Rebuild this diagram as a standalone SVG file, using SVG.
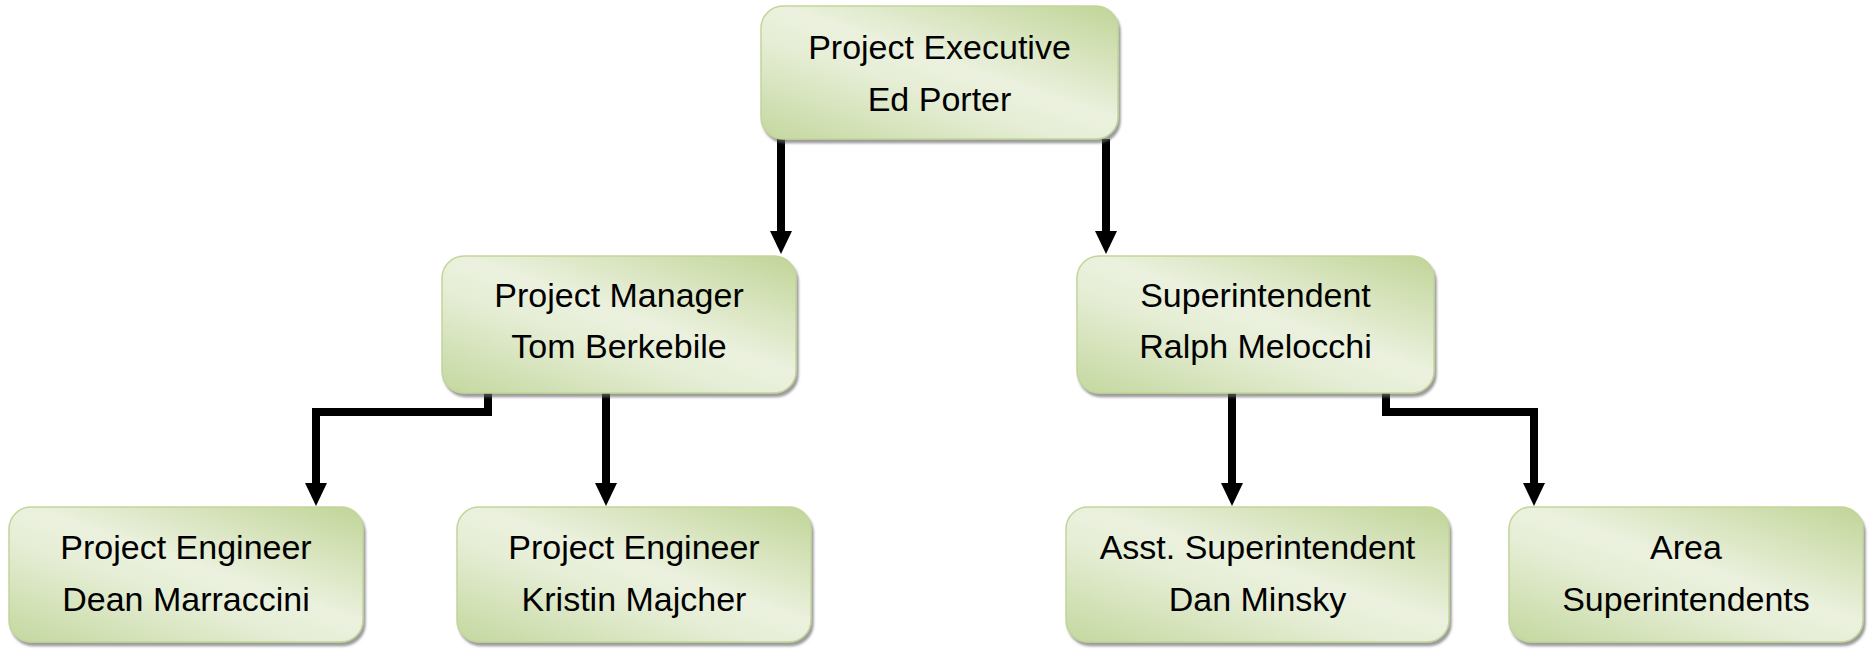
<svg xmlns="http://www.w3.org/2000/svg" width="1871" height="651" viewBox="0 0 1871 651">
  <defs>
    <linearGradient id="boxFill" x1="0.95" y1="0" x2="0.05" y2="1">
      <stop offset="0" stop-color="#c3d69b"/>
      <stop offset="0.45" stop-color="#ebf1de"/>
      <stop offset="0.6" stop-color="#e6eed6"/>
      <stop offset="1" stop-color="#c6d9a2"/>
    </linearGradient>
    <filter id="shadow" x="-5%" y="-5%" width="112%" height="115%">
      <feDropShadow dx="2" dy="3.5" stdDeviation="1.2" flood-color="#666666" flood-opacity="0.65"/>
    </filter>
    <marker id="arrow" viewBox="0 0 23 22" refX="1" refY="11" markerWidth="23" markerHeight="22" markerUnits="userSpaceOnUse" orient="auto">
      <path d="M0,0 L23,11 L0,22 Z" fill="#000"/>
    </marker>
    <style>
      .box { fill: url(#boxFill); stroke: #c2d59a; stroke-width: 1.5; filter: url(#shadow); }
      .lbl { font-family: "Liberation Sans", Arial, sans-serif; font-size: 34px; fill: #000; text-anchor: middle; }
      .conn { fill: none; stroke: #000; stroke-width: 8; stroke-linejoin: miter; marker-end: url(#arrow); }
    </style>
  </defs>
  <rect width="1871" height="651" fill="#ffffff"/>

  <g id="connectors">
    <path class="conn" d="M781,139 V232"/>
    <path class="conn" d="M1106,139 V232"/>
    <path class="conn" d="M488,393 V412 H316 V484"/>
    <path class="conn" d="M606,393 V484"/>
    <path class="conn" d="M1232,393 V484"/>
    <path class="conn" d="M1386,393 V412 H1534 V484"/>
  </g>

  <g id="node-exec">
    <rect class="box" x="761" y="6" width="357" height="133" rx="22"/>
    <text class="lbl" x="939.5" y="59">Project Executive</text>
    <text class="lbl" x="939.5" y="111">Ed Porter</text>
  </g>

  <g id="node-pm">
    <rect class="box" x="442" y="256" width="354" height="137" rx="22"/>
    <text class="lbl" x="619" y="307">Project Manager</text>
    <text class="lbl" x="619" y="358">Tom Berkebile</text>
  </g>

  <g id="node-super">
    <rect class="box" x="1077" y="256" width="357" height="137" rx="22"/>
    <text class="lbl" x="1255.5" y="307">Superintendent</text>
    <text class="lbl" x="1255.5" y="358">Ralph Melocchi</text>
  </g>

  <g id="node-pe1">
    <rect class="box" x="9" y="507" width="354" height="135" rx="22"/>
    <text class="lbl" x="186" y="559">Project Engineer</text>
    <text class="lbl" x="186" y="611">Dean Marraccini</text>
  </g>

  <g id="node-pe2">
    <rect class="box" x="457" y="507" width="354" height="135" rx="22"/>
    <text class="lbl" x="634" y="559">Project Engineer</text>
    <text class="lbl" x="634" y="611">Kristin Majcher</text>
  </g>

  <g id="node-asst">
    <rect class="box" x="1066" y="507" width="383" height="135" rx="22"/>
    <text class="lbl" x="1257.5" y="559">Asst. Superintendent</text>
    <text class="lbl" x="1257.5" y="611">Dan Minsky</text>
  </g>

  <g id="node-area">
    <rect class="box" x="1509" y="507" width="354" height="135" rx="22"/>
    <text class="lbl" x="1686" y="559">Area</text>
    <text class="lbl" x="1686" y="611">Superintendents</text>
  </g>
</svg>
